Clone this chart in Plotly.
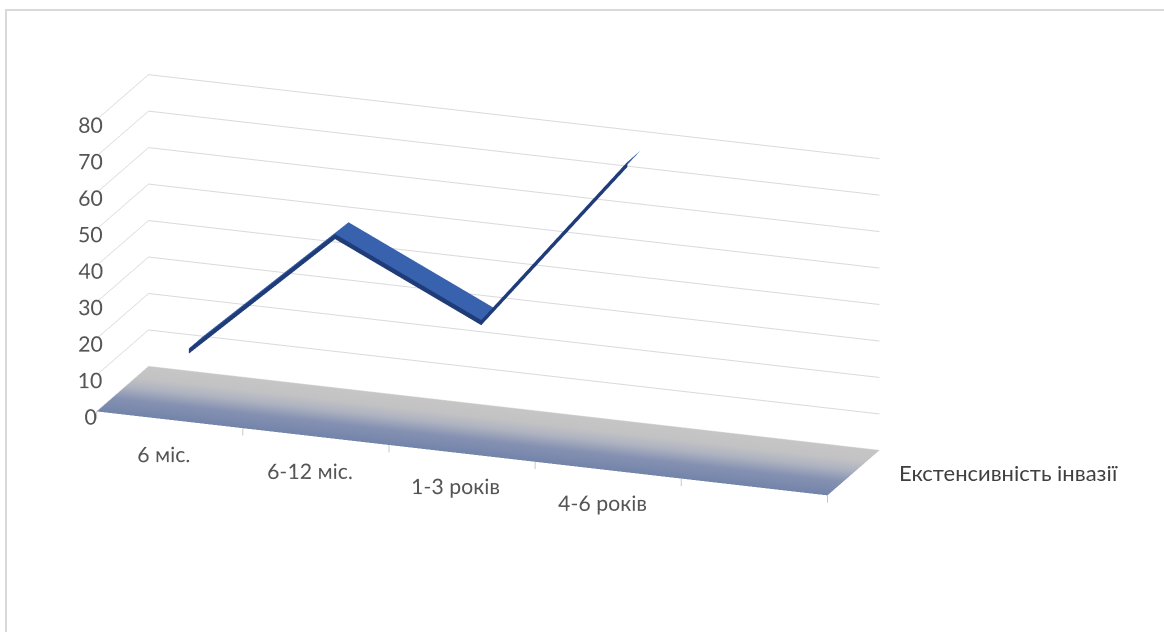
import numpy as np
import plotly.graph_objects as go

# ---------------- data ----------------
categories = ["6 міс.", "6-12 міс.", "1-3 років", "4-6 років", ""]
values = [15, 51, 32, 80, None]
series_name = "Екстенсивність інвазії"
z_ticks = [0, 10, 20, 30, 40, 50, 60, 70, 80]

# ---------------- geometry (data space) ----------------
n = len(categories)
xc = [i + 0.5 for i in range(n)]
Y_FRONT, Y_BACK = 0.37, 0.63
THICK = 1.4
Z_MIN = -8
Z_MAX = 80

pts = [(x, v) for x, v in zip(xc, values) if v is not None]

# ribbon top face
tx, ty, tz, ti, tj, tk = [], [], [], [], [], []
for x, v in pts:
    tx += [x, x]; ty += [Y_FRONT, Y_BACK]; tz += [v, v]
for s in range(len(pts) - 1):
    a = 2 * s
    ti += [a, a + 1]; tj += [a + 1, a + 3]; tk += [a + 2, a + 2]

# ribbon front face (thickness)
fx, fy, fz = [], [], []
for x, v in pts:
    fx += [x, x]; fy += [Y_FRONT, Y_FRONT]; fz += [v, v - THICK]

flat = dict(ambient=1, diffuse=0, specular=0, roughness=1, fresnel=0)

fig = go.Figure()

# floor
fxs = np.array([0, n])
fys = np.linspace(0, 1, 21)
FX, FY = np.meshgrid(fxs, fys)
fig.add_trace(go.Surface(
    x=FX, y=FY, z=np.zeros_like(FX), surfacecolor=FY,
    colorscale=[[0, "#7384aa"], [0.3, "#8591b2"], [0.55, "#aeb3c0"], [0.75, "#c2c2c4"], [1, "#c6c6c6"]],
    cmin=0, cmax=1, showscale=False, lighting=flat, hoverinfo="skip"))

# tick marks under floor front edge (category boundaries)
bx, by, bz = [], [], []
for b in range(n + 1):
    bx += [b, b, None]; by += [0, 0, None]; bz += [0, -2, None]
fig.add_trace(go.Scatter3d(x=bx, y=by, z=bz, mode="lines",
                           line=dict(color="#c8c8c8", width=2), hoverinfo="skip", showlegend=False))

# ribbon
fig.add_trace(go.Mesh3d(x=fx, y=fy, z=fz, i=ti, j=tj, k=tk, color="#1f3b78",
                        flatshading=True, lighting=flat, hoverinfo="skip"))
fig.add_trace(go.Mesh3d(x=tx, y=ty, z=tz, i=ti, j=tj, k=tk, color="#3862ad",
                        flatshading=True, lighting=flat, hoverinfo="skip", name=series_name))

# ---------------- view ----------------
PX_PER_UNIT = 316.5
W, D = 779.0, 152.0
H = 3.85 * (Z_MAX - Z_MIN)
theta, phi = np.radians(20.0), np.radians(18.4)
dirv = np.array([np.sin(theta) * np.cos(phi), -np.cos(theta) * np.cos(phi), np.sin(phi)])
r = 2.0
cz = -16.4 / (PX_PER_UNIT * np.cos(phi))
center = np.array([0.0, 0.0, cz])
eye = center + dirv * r

label_col = "#555555"
FONT = "Lato, sans-serif"
TICK_SIZE = 16
axis_common = dict(showbackground=False, zeroline=False, showline=False, showspikes=False,
                   title=dict(text=""), ticks="", tickangle=0)

fig.update_layout(
    width=1164, height=632,
    margin=dict(l=0, r=0, t=0, b=0),
    paper_bgcolor="white",
    showlegend=False,
    font=dict(family=FONT, color=label_col, size=21),
    scene=dict(
        domain=dict(x=[0, 0.8385], y=[0, 1]),
        aspectmode="manual",
        aspectratio=dict(x=W / PX_PER_UNIT, y=D / PX_PER_UNIT, z=H / PX_PER_UNIT),
        xaxis=dict(range=[0, n], tickvals=xc, ticktext=categories, showgrid=False,
                   tickfont=dict(family=FONT, size=TICK_SIZE, color=label_col), **axis_common),
        yaxis=dict(range=[0, 1], showticklabels=False, showgrid=False, **axis_common),
        zaxis=dict(range=[Z_MIN, Z_MAX], tickvals=z_ticks, showgrid=True, gridcolor="#d9d9d9",
                   gridwidth=2, tickfont=dict(family=FONT, size=TICK_SIZE, color=label_col),
                   **axis_common),
        camera=dict(eye=dict(x=eye[0], y=eye[1], z=eye[2]),
                    center=dict(x=center[0], y=center[1], z=center[2]),
                    up=dict(x=0, y=0, z=1), projection=dict(type="orthographic")),
        annotations=[dict(x=n, y=0.5, z=0, text=series_name, showarrow=False,
                          xanchor="left", xshift=44,
                          font=dict(family=FONT, size=22, color="#404040"))],
    ),
    shapes=[dict(type="rect", xref="paper", yref="paper", x0=6 / 1164, x1=1.01,
                 y0=-0.01, y1=1 - 10 / 632, line=dict(color="#d9d9d9", width=2))],
)

fig.write_html("out.html")
